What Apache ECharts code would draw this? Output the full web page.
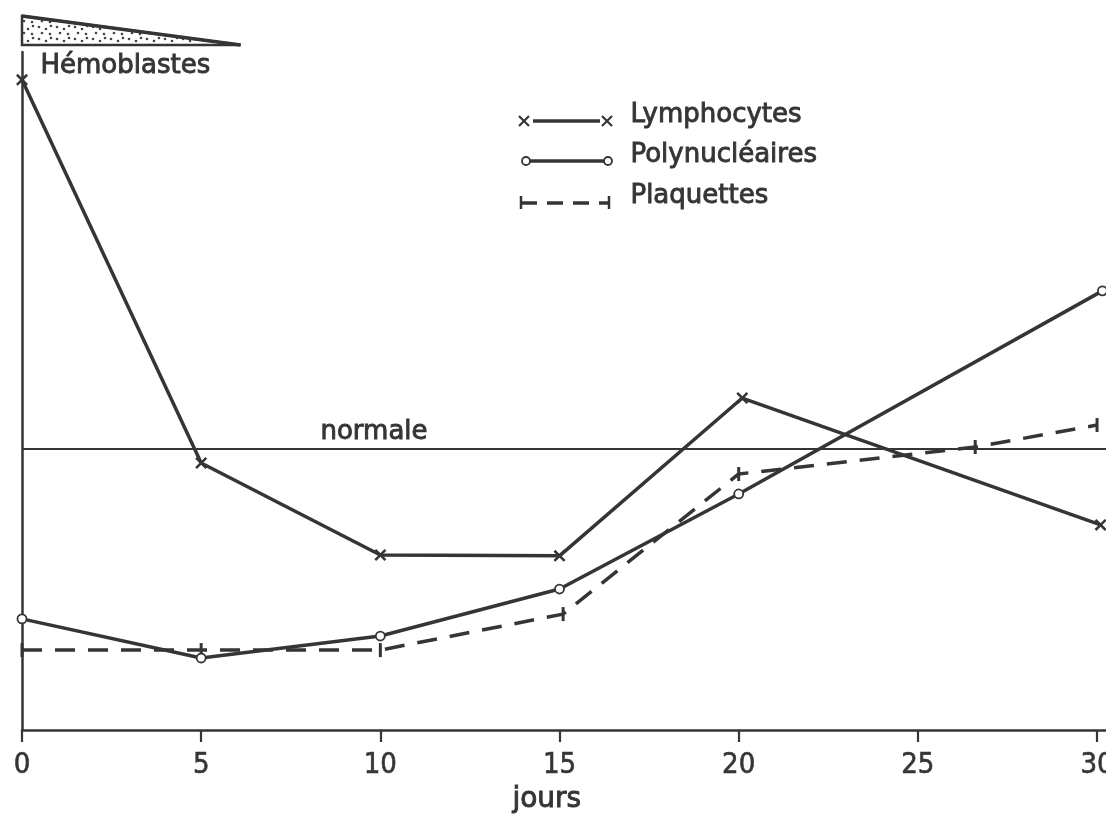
<!DOCTYPE html>
<html><head><meta charset="utf-8">
<script src="https://cdn.jsdelivr.net/npm/echarts@6/dist/echarts.min.js"></script>
<style>html,body{margin:0;padding:0;background:#fff}#c{width:1106px;height:814px}</style>
</head><body><div id="c"></div>
<script>
// ---- data (y in arbitrary units, normale = 100) ----
const xTicks = [0, 5, 10, 15, 20, 25, 30];
const lymphDays = [0, 5, 10, 15, 20.1, 30.1];
const lymphVals = [231.1, 94.9, 62.2, 61.9, 118.0, 72.9];
const polyDays = [0, 5, 10, 15, 20, 30.15];
const polyVals = [39.5, 25.6, 33.4, 50.1, 83.9, 156.1];
const plaqDays = [0, 5, 10, 15.1, 20, 26.6, 30];
const plaqVals = [28.4, 28.4, 28.4, 41.2, 91.0, 100.6, 108.4];
const normale = 100;
const hemoDays = [0, 6.1];
const hemoLevel = [1, 0];
const seriesNames = ['Lymphocytes', 'Polynucléaires', 'Plaquettes'];

const INK = '#353535';
const FONT = '"DejaVu Sans", sans-serif';
const NUMFONT = '"Liberation Sans Narrow", "DejaVu Sans Condensed", sans-serif';

const pair = (xs, ys) => xs.map((x, i) => [x, ys[i]]);

const xPath = 'path://M0,1.5L1.5,0L10,8.5L8.5,10Z M8.5,0L10,1.5L1.5,10L0,8.5Z';
const tickPath = 'path://M0,0L2,0L2,10L0,10Z';

// dotted pattern for the hemoblast wedge
const pc = document.createElement('canvas');
pc.width = 18; pc.height = 12;
const pctx = pc.getContext('2d');
pctx.fillStyle = '#444';
[[3,3],[10,5],[15,2],[6,9],[14,10]].forEach(p => { pctx.beginPath(); pctx.arc(p[0], p[1], 1.3, 0, Math.PI*2); pctx.fill(); });

const chart = echarts.init(document.getElementById('c'), null, {renderer: 'canvas'});

function legendX(cx, cy) {
  return [
    {type:'line', shape:{x1:cx-5,y1:cy-5,x2:cx+5,y2:cy+5}, style:{stroke:INK,lineWidth:2.2}},
    {type:'line', shape:{x1:cx+5,y1:cy-5,x2:cx-5,y2:cy+5}, style:{stroke:INK,lineWidth:2.2}}
  ];
}
function txt(s, left, top, size) {
  return {type:'text', left:left, top:top,
    style:{text:s, font:size+'px '+FONT, fill:INK, stroke:INK, lineWidth:0.9}};
}

const option = {
  backgroundColor: '#fff',
  animation: false,
  grid: [
    {left: 22, right: 0, top: 52, bottom: 84, outerBoundsMode:'none', containLabel:false},
    {left: 22, right: 0, top: 16, height: 29, outerBoundsMode:'none', containLabel:false}
  ],
  xAxis: [
    {type:'value', gridIndex:0, min:0, max:30.25,
     axisLine:{show:true, lineStyle:{color:INK, width:2.5}},
     axisTick:{show:true, customValues:xTicks, length:12, lineStyle:{color:INK, width:2.2}},
     axisLabel:{customValues:xTicks, margin:21, color:INK, fontSize:29, fontFamily:NUMFONT,
                textBorderColor:INK, textBorderWidth:0.6},
     splitLine:{show:false}},
    {type:'value', gridIndex:1, min:0, max:30.25, show:false}
  ],
  yAxis: [
    {type:'value', gridIndex:0, min:0, max:241,
     axisLine:{show:true, lineStyle:{color:INK, width:2.5}},
     axisTick:{show:false}, axisLabel:{show:false}, splitLine:{show:false}},
    {type:'value', gridIndex:1, min:0, max:1, show:false}
  ],
  graphic: [
    txt('Hémoblastes', 40, 53, 26),
    txt('normale', 320, 419, 26),
    txt('jours', 512, 785, 28),
    // legend
    ...legendX(524, 121),
    {type:'line', shape:{x1:533,y1:121,x2:600,y2:121}, style:{stroke:INK,lineWidth:3.5}},
    ...legendX(607, 121),
    txt(seriesNames[0], 630, 102, 26),
    {type:'circle', shape:{cx:526,cy:161,r:4}, style:{stroke:INK,lineWidth:1.8,fill:'#fff'}},
    {type:'line', shape:{x1:530,y1:161,x2:604,y2:161}, style:{stroke:INK,lineWidth:3.5}},
    {type:'circle', shape:{cx:608,cy:161,r:4}, style:{stroke:INK,lineWidth:1.8,fill:'#fff'}},
    txt(seriesNames[1], 630, 142, 26),
    {type:'line', shape:{x1:521,y1:196,x2:521,y2:209}, style:{stroke:INK,lineWidth:2.5}},
    {type:'line', shape:{x1:521,y1:203,x2:609,y2:203}, style:{stroke:INK,lineWidth:3.5,lineDash:[16,10]}},
    {type:'line', shape:{x1:609,y1:196,x2:609,y2:209}, style:{stroke:INK,lineWidth:2.5}},
    txt(seriesNames[2], 630, 183, 26)
  ],
  series: [
    {
      name:'Hémoblastes', type:'custom', xAxisIndex:1, yAxisIndex:1,
      data: pair(hemoDays, hemoLevel),
      renderItem: function(params, api) {
        if (params.dataIndex !== 0) return null;
        const pTopLeft = api.coord([hemoDays[0], hemoLevel[0]]);
        const pBotLeft = api.coord([hemoDays[0], 0]);
        const pTip = api.coord([hemoDays[1], hemoLevel[1]]);
        return {type:'group', children:[
          {type:'polygon', shape:{points:[pTopLeft, pBotLeft, pTip]},
           style:{fill:{image:pc, repeat:'repeat'}, stroke:INK, lineWidth:2.5}},
          {type:'line', shape:{x1:pTopLeft[0], y1:pTopLeft[1], x2:pTip[0], y2:pTip[1]},
           style:{stroke:INK, lineWidth:3.5}}
        ]};
      }
    },
    {
      name: seriesNames[0], type:'line', data: pair(lymphDays, lymphVals),
      symbol: xPath, symbolSize: 12, showAllSymbol:true,
      lineStyle:{color:INK, width:3.5}, itemStyle:{color:INK},
      markLine:{silent:true, symbol:'none', label:{show:false},
        lineStyle:{color:INK, width:2, type:'solid'}, data:[{yAxis: normale}]},
      z: 3
    },
    {
      name: seriesNames[1], type:'line', data: pair(polyDays, polyVals),
      symbol:'circle', symbolSize: 9, showAllSymbol:true,
      lineStyle:{color:INK, width:3.5}, itemStyle:{color:'#fff', borderColor:INK, borderWidth:1.8},
      z: 4
    },
    {
      name: seriesNames[2], type:'line', data: pair(plaqDays, plaqVals),
      symbol: tickPath, symbolSize:[3,14], showAllSymbol:true,
      lineStyle:{color:INK, width:3.5, type:[20,13]}, itemStyle:{color:INK},
      z: 2
    }
  ]
};
chart.setOption(option);
</script></body></html>
